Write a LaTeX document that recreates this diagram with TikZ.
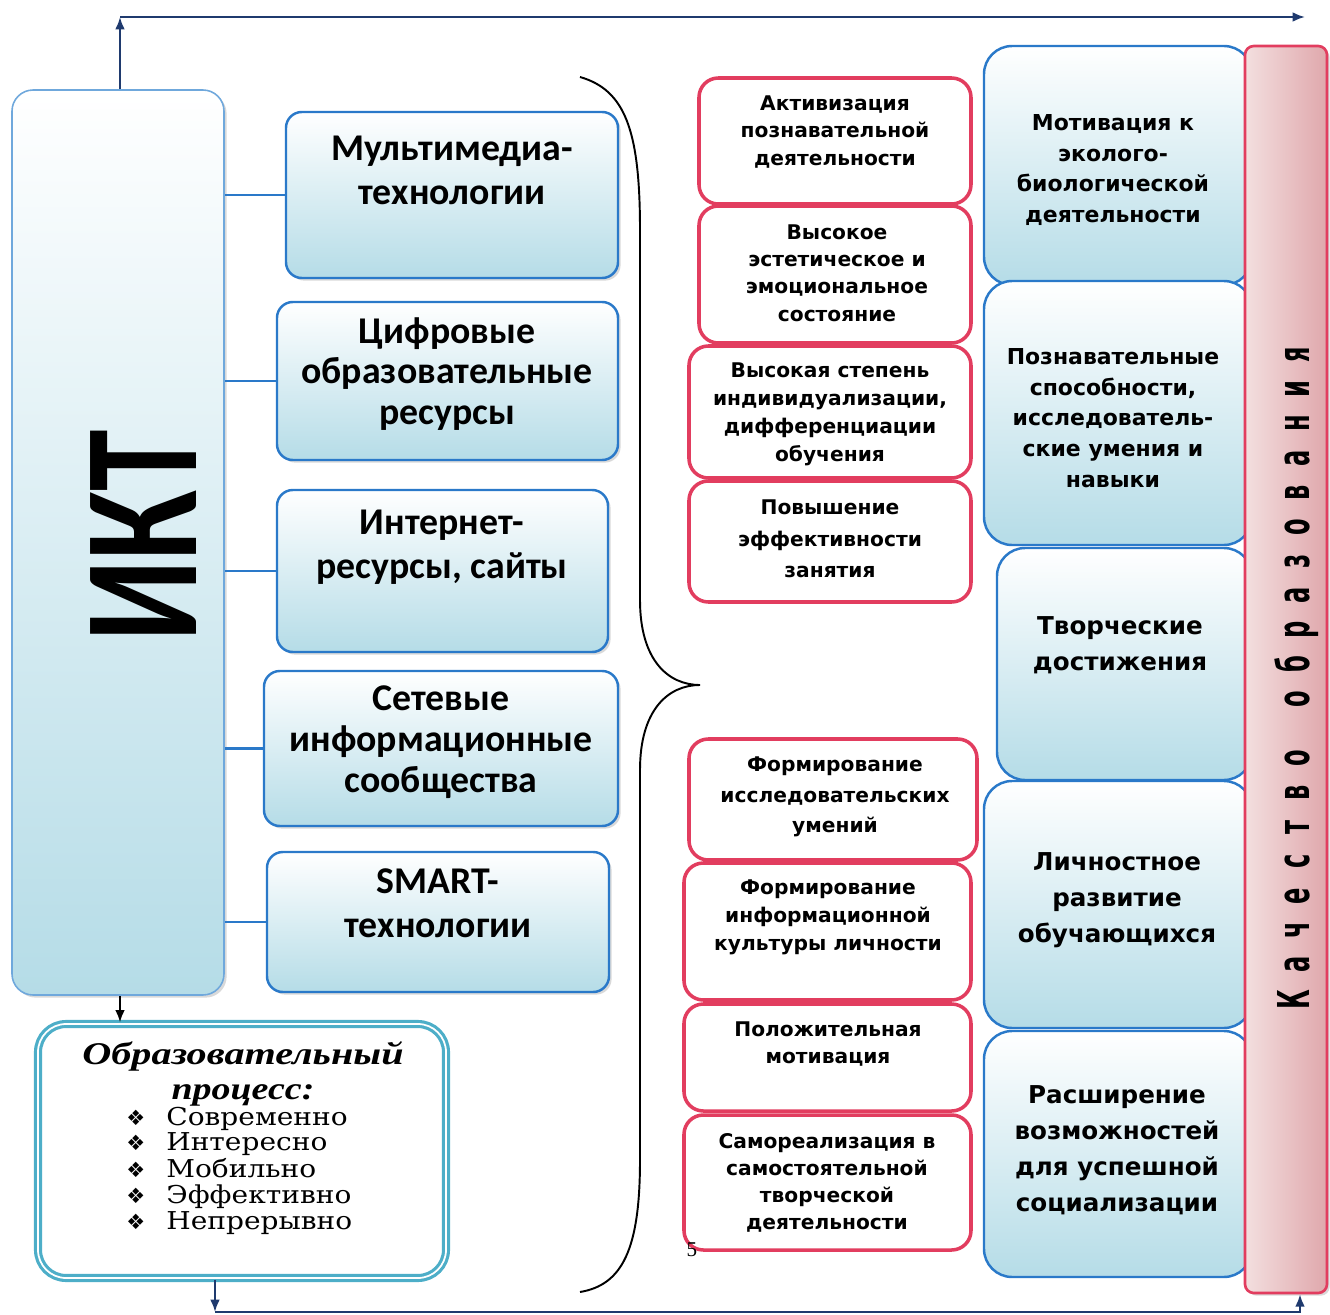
\documentclass[tikz,border=0pt]{standalone}
\usepackage{fontspec}
\setmainfont{Liberation Serif}
\newfontfamily\calfont{Carlito}
\newfontfamily\dvsans{DejaVu Sans}
\newfontfamily\dvserif{DejaVu Serif}
\usepackage{graphicx}
\usetikzlibrary{arrows.meta, positioning, fit, shadows}

\definecolor{frameblue}{HTML}{2A79C9}
\definecolor{iktblue}{HTML}{6FA8DC}
\definecolor{aqua}{HTML}{B5DCE7}
\definecolor{rosered}{HTML}{E23D5F}
\definecolor{pinkdark}{HTML}{D9959B}
\definecolor{pinklight}{HTML}{F3DFDF}
\definecolor{navy}{HTML}{1F3A6E}
\definecolor{tealframe}{HTML}{4DAEC8}

\newcommand\bulletmark{{\dvsans\fontsize{12}{12}\selectfont ❖}}

\begin{document}
\begin{tikzpicture}[
    x=0.02cm, y=-0.02cm,
    >={Latex[length=7pt,width=5.5pt]},
    softshadow/.style={drop shadow={shadow xshift=1.5pt, shadow yshift=-1.5pt, opacity=0.3}},
    iktbox/.style={fit={#1}, inner sep=0pt, rounded corners=12pt, draw=iktblue,
                   line width=0.9pt, top color=white, bottom color=aqua, softshadow},
    lbox/.style={fit={#1}, inner sep=0pt, rounded corners=9pt, draw=frameblue,
                 line width=1.4pt, top color=white, bottom color=aqua, softshadow},
    qbox/.style={fit={#1}, inner sep=0pt, rounded corners=16pt, draw=frameblue,
                 line width=1.4pt, top color=white, bottom color=aqua},
    effbox/.style={fit={#1}, inner sep=0pt, rounded corners=11pt, draw=rosered,
                   line width=2pt, fill=white},
    ltext/.style={font=\calfont\bfseries\fontsize{21.5}{#1}\selectfont, align=center},
    ltext/.default=25,
    efftext/.style={font=\dvsans\bfseries\fontsize{11.5}{#1}\selectfont, align=center},
    efftext/.default=15.5,
    qtext/.style={font=\dvsans\bfseries\fontsize{12.5}{#1}\selectfont, align=center},
    qtext/.default=17.5,
    bigqtext/.style={font=\dvsans\bfseries\fontsize{14}{#1}\selectfont, align=center},
    bigqtext/.default=20.5,
    conn/.style={draw=frameblue, line width=1.2pt},
    navyarrow/.style={draw=navy, line width=1.2pt, ->}
  ]
  \useasboundingbox (0,0) rectangle (1330,1315);

  % ИКТ and its tools
  \node[iktbox={(12,90)(224,995)}] (ikt) {};
  \node[rotate=90, inner sep=0pt] (ikt-t) at (144,536)
    {\scalebox{0.76}[1]{\calfont\bfseries\fontsize{93}{93}\selectfont ИКТ}};

  \node[lbox={(286,112)(618,278)}] (mm) {};
  \node[ltext] (mm-t) at (452,170) {Мультимедиа-\\технологии};
  \node[lbox={(277,302)(618,460)}] (cor) {};
  \node[ltext=23] (cor-t) at (447,374) {Цифровые\\образовательные\\ресурсы};
  \node[lbox={(277,490)(608,652)}] (inet) {};
  \node[ltext] (inet-t) at (442,547) {Интернет-\\ресурсы, сайты};
  \node[lbox={(264,671)(618,826)}] (net) {};
  \node[ltext=23.5] (net-t) at (441,742) {Сетевые\\информационные\\сообщества};
  \node[lbox={(267,852)(609,992)}] (smart) {};
  \node[ltext] (smart-t) at (438,903) {SMART-\\технологии};

  \foreach \b in {mm,cor,inet,net,smart}
    \draw[conn] (\b.west) -- (\b.west -| ikt.east);

  % educational process
  \node[fit={(38,1024)(446,1278)}, inner sep=0pt, rounded corners=16pt, draw=tealframe,
        line width=1.8pt, double=white, double distance=1pt, fill=white] (obr) {};
  \node[font=\bfseries\itshape\fontsize{18}{19.5}\selectfont, align=center] (obr-t)
    at (243,1074) {\scalebox{1.27}[1]{Образовательный}\\\scalebox{1.2}[1]{процесс:}};
  \node[anchor=west, inner sep=0pt, font=\dvserif\fontsize{14}{14.3}\selectfont] (obr-list)
    at (126,1172) {%
    \begin{tabular}{@{}l@{\hspace{12pt}}l@{}}
      \bulletmark & \scalebox{1.14}[1]{Современно}\\
      \bulletmark & \scalebox{1.14}[1]{Интересно}\\
      \bulletmark & \scalebox{1.14}[1]{Мобильно}\\
      \bulletmark & \scalebox{1.14}[1]{Эффективно}\\
      \bulletmark & \scalebox{1.14}[1]{Непрерывно}
    \end{tabular}};

  % brace
  \draw[line width=1.1pt] (580,77) .. controls (625,90) and (640,130) .. (640,230)
    -- (640,600) .. controls (640,660) and (668,685) .. (700,685)
    .. controls (668,685) and (640,710) .. (640,770)
    -- (640,1160) .. controls (640,1250) and (622,1285) .. (580,1292);

  % effects
  \node[effbox={(699,78)(971,204)}] (ef1) {};
  \node[efftext] (ef1-t) at (835,132) {Активизация\\познавательной\\деятельности};
  \node[effbox={(699,206)(971,343)}] (ef2) {};
  \node[efftext] (ef2-t) at (837,273) {Высокое\\эстетическое и\\эмоциональное\\состояние};
  \node[effbox={(689,346)(971,478)}] (ef3) {};
  \node[efftext=16] (ef3-t) at (830,414) {Высокая степень\\индивидуализации,\\дифференциации\\обучения};
  \node[effbox={(689,481)(971,602)}] (ef4) {};
  \node[efftext=18] (ef4-t) at (830,539) {Повышение\\эффективности\\занятия};
  \node[effbox={(689,739)(977,860)}] (ef5) {};
  \node[efftext=17.5] (ef5-t) at (835,797) {Формирование\\исследовательских\\умений};
  \node[effbox={(684,863)(971,1000)}] (ef6) {};
  \node[efftext=16] (ef6-t) at (828,917) {Формирование\\информационной\\культуры личности};
  \node[effbox={(684,1004)(971,1111)}] (ef7) {};
  \node[efftext] (ef7-t) at (828,1044) {Положительная\\мотивация};
  \node[effbox={(684,1115)(971,1250)}] (ef8) {};
  \node[efftext] (ef8-t) at (827,1183) {Самореализация в\\самостоятельной\\творческой\\деятельности};
  \node[font=\fontsize{12}{12}\selectfont, inner sep=0pt] (pg) at (692,1250) {5};

  % results
  \node[qbox={(984,46)(1252,285)}] (q1) {};
  \node[qtext] (q1-t) at (1113,170) {Мотивация к\\эколого-\\биологической\\деятельности};
  \node[qbox={(984,281)(1252,545)}] (q2) {};
  \node[qtext] (q2-t) at (1113,418) {Познавательные\\способности,\\исследователь-\\ские умения и\\навыки};
  \node[qbox={(997,548)(1252,780)}] (q3) {};
  \node[bigqtext] (q3-t) at (1120,645) {Творческие\\достижения};
  \node[qbox={(984,781)(1252,1028)}] (q4) {};
  \node[bigqtext] (q4-t) at (1117,900) {Личностное\\развитие\\обучающихся};
  \node[qbox={(984,1031)(1252,1277)}] (q5) {};
  \node[bigqtext] (q5-t) at (1117,1150) {Расширение\\возможностей\\для успешной\\социализации};

  % quality of education
  \node[fit={(1245,46)(1327,1293)}, inner sep=0pt, rounded corners=5pt, draw=rosered,
        line width=1.5pt, left color=pinklight, right color=pinkdark!75!pinklight,
        softshadow] (kach) {};
  \node[rotate=90, inner sep=0pt] (kach-t) at (1297,677) {\scalebox{0.55}[1]{%
      \dvsans\bfseries\fontsize{25}{25}\selectfont
      \foreach \c in {К,а,ч,е,с,т,в,о}{\makebox[35.6pt]{\c}}\hspace{26pt}%
      \foreach \c in {о,б,р,а,з,о,в,а,н,и,я}{\makebox[35.6pt]{\c}}}};

  % arrows
  \coordinate (tl) at (120,17);
  \coordinate (tr) at (1305,17);
  \coordinate (bl) at (215,1312);
  \coordinate (br) at (1300,1312);
  \draw[navyarrow] (ikt.north -| tl) -- (tl);
  \draw[navyarrow] (tl) -- (tr);
  \draw[line width=1.2pt, ->] (ikt.south -| tl) -- (obr.north -| tl);
  \draw[navyarrow] (obr.south -| bl) -- (bl);
  \draw[navyarrow] (bl) -- (br) -- (br |- kach.south);
\end{tikzpicture}
\end{document}
